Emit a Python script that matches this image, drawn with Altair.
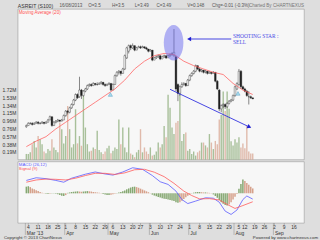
import altair as alt
import pandas as pd

# ---------------- data (trading days from 2013-03-01 to 2013-08-16) ----------------
opens = [3.24,3.25,3.27,3.27,3.26,3.27,3.28,3.27,3.27,3.28,
         3.27,3.28,3.30,3.33,3.25,3.28,3.29,3.30,3.29,3.30,
         3.34,3.38,3.37,3.41,3.44,3.48,3.53,3.51,3.57,3.52,
         3.56,3.58,3.61,3.62,3.61,3.63,3.62,3.62,3.63,3.64,
         3.62,3.61,3.62,3.63,3.57,3.62,3.70,3.73,3.74,3.72,
         3.76,3.86,3.92,3.97,3.95,3.97,3.93,3.95,3.96,3.95,
         3.96,3.95,3.94,3.92,3.93,3.84,3.86,3.87,3.88,3.85,
         3.87,3.88,3.86,3.88,3.89,3.88,3.87,3.62,3.54,3.60,
         3.62,3.63,3.61,3.66,3.70,3.72,3.74,3.79,3.76,3.74,
         3.75,3.73,3.74,3.72,3.73,3.72,3.73,3.65,3.57,3.40,
         3.43,3.44,3.42,3.45,3.47,3.48,3.52,3.58,3.62,3.74,
         3.60,3.58,3.56,3.51,3.51,3.50]
highs = [3.26,3.28,3.28,3.28,3.28,3.29,3.29,3.28,3.29,3.28,
         3.29,3.31,3.34,3.33,3.29,3.30,3.31,3.30,3.31,3.35,
         3.39,3.39,3.42,3.45,3.49,3.54,3.54,3.69,3.58,3.57,
         3.59,3.62,3.63,3.63,3.64,3.63,3.64,3.64,3.65,3.64,
         3.63,3.63,3.64,3.63,3.63,3.71,3.74,3.75,3.74,3.77,
         3.89,3.96,3.98,3.98,3.99,3.97,3.96,3.97,3.97,3.97,
         3.96,3.96,3.94,3.94,3.93,3.87,3.88,3.89,3.88,3.88,
         3.89,3.88,3.89,3.90,3.91,4.12,3.88,3.63,3.61,3.64,
         3.64,3.63,3.67,3.71,3.73,3.75,3.80,3.79,3.77,3.76,
         3.75,3.75,3.74,3.74,3.73,3.74,3.73,3.66,3.58,3.44,
         3.45,3.45,3.46,3.48,3.49,3.53,3.61,3.64,3.76,3.75,
         3.61,3.59,3.57,3.56,3.52,3.50]
lows = [3.23,3.25,3.26,3.25,3.26,3.27,3.26,3.26,3.27,3.26,
        3.27,3.28,3.30,3.24,3.25,3.27,3.28,3.28,3.29,3.30,
        3.33,3.35,3.36,3.40,3.43,3.47,3.49,3.50,3.49,3.51,
        3.55,3.57,3.60,3.60,3.61,3.61,3.61,3.62,3.62,3.61,
        3.60,3.61,3.62,3.56,3.57,3.62,3.69,3.71,3.70,3.72,
        3.75,3.85,3.90,3.93,3.94,3.92,3.93,3.95,3.94,3.95,
        3.94,3.93,3.91,3.92,3.83,3.84,3.85,3.86,3.84,3.85,
        3.86,3.85,3.86,3.87,3.88,3.87,3.56,3.47,3.52,3.59,
        3.61,3.60,3.61,3.65,3.69,3.71,3.73,3.75,3.73,3.73,
        3.72,3.72,3.71,3.72,3.71,3.72,3.64,3.57,3.38,3.37,
        3.41,3.40,3.41,3.44,3.46,3.47,3.51,3.57,3.61,3.58,
        3.57,3.55,3.51,3.44,3.49,3.49]
closes = [3.25,3.27,3.27,3.26,3.27,3.28,3.27,3.27,3.28,3.27,
          3.28,3.30,3.33,3.25,3.28,3.29,3.30,3.29,3.30,3.34,
          3.38,3.37,3.41,3.44,3.48,3.53,3.50,3.57,3.52,3.56,
          3.58,3.61,3.62,3.61,3.63,3.62,3.62,3.63,3.64,3.62,
          3.61,3.62,3.63,3.57,3.62,3.70,3.73,3.74,3.72,3.76,
          3.88,3.95,3.97,3.95,3.97,3.93,3.95,3.96,3.95,3.96,
          3.95,3.94,3.92,3.93,3.84,3.86,3.87,3.88,3.85,3.87,
          3.88,3.86,3.88,3.89,3.90,3.91,3.58,3.54,3.60,3.62,
          3.63,3.61,3.66,3.70,3.72,3.74,3.79,3.76,3.74,3.75,
          3.73,3.74,3.72,3.73,3.72,3.73,3.65,3.58,3.40,3.43,
          3.44,3.42,3.45,3.47,3.48,3.52,3.60,3.63,3.74,3.60,
          3.58,3.56,3.52,3.51,3.50,3.49]
volumes = [0.14,0.14,0.18,0.38,0.46,0.30,0.58,0.50,0.38,0.20,
           0.16,0.26,0.22,0.50,0.30,0.24,0.18,0.91,0.75,0.40,
           0.58,1.32,0.75,0.30,0.38,1.24,0.40,0.58,0.34,1.56,
           0.79,0.38,0.20,0.22,0.30,0.26,0.71,0.24,0.18,0.14,
           0.20,0.28,0.34,0.16,0.22,0.30,0.26,0.99,0.38,0.79,
           0.30,0.18,0.79,0.15,0.12,0.06,0.18,0.24,0.75,0.18,
           0.30,0.20,0.14,0.30,0.10,0.12,0.20,0.42,0.30,0.38,
           0.83,0.55,1.60,1.28,0.79,0.63,0.91,0.95,1.68,0.46,
           0.63,0.67,0.22,0.26,0.14,0.20,0.10,0.18,0.22,0.42,
           0.42,0.35,0.30,0.63,0.42,0.26,0.46,0.38,0.99,1.10,
           1.68,1.20,1.68,1.25,0.45,0.35,0.50,0.42,0.55,0.30,
           0.40,0.28,0.83,0.20,0.15,0.15]

# moving average (20)
ma_idx = [0,5,10,15,20,25,30,35,40,45,50,55,60,65,70,75,80,85,90,95,100,105,110,115]
ma_val = [3.06,3.11,3.15,3.22,3.28,3.34,3.40,3.46,3.52,3.58,3.66,3.76,3.83,3.88,3.90,3.89,
          3.83,3.79,3.76,3.73,3.71,3.63,3.57,3.53]

# MACD panel
macd_idx = [0,5,10,15,19,23,30,35,40,44,49,54,59,64,68,72,76,79,82,86,91,95,98,101,104,107,110,112,115]
macd_val = [0.058,0.070,0.066,0.058,0.050,0.068,0.086,0.096,0.087,0.082,0.096,0.115,0.108,0.080,
            0.052,0.040,0.010,-0.028,-0.046,-0.035,-0.020,-0.022,-0.040,-0.080,-0.095,-0.075,
            -0.028,-0.012,-0.026]
sig_idx = [0,5,10,15,20,25,30,35,40,45,50,55,60,65,70,75,80,84,88,93,98,102,106,110,115]
sig_val = [0.050,0.060,0.064,0.063,0.060,0.068,0.080,0.090,0.090,0.085,0.092,0.106,0.108,0.095,
           0.075,0.045,0.010,-0.010,-0.025,-0.024,-0.030,-0.050,-0.068,-0.055,-0.038]
hist_val = [0.030,0.032,0.028,0.022,0.018,0.014,0.010,0.006,0.003,0.001,
            -0.002,-0.003,-0.002,0.001,0.002,-0.002,-0.004,-0.008,-0.011,-0.012,
            -0.008,0.002,0.004,0.006,0.007,0.008,0.009,0.008,0.007,0.008,
            0.009,0.010,0.009,0.008,0.006,0.005,0.004,0.003,0.001,-0.003,
            -0.005,-0.007,-0.008,-0.006,-0.004,-0.002,0.002,0.004,0.006,0.009,
            0.013,0.018,0.022,0.026,0.029,0.030,0.028,0.025,0.021,0.017,
            0.013,0.009,0.005,0.001,-0.006,-0.010,-0.013,-0.016,-0.019,-0.022,
            -0.024,-0.026,-0.028,-0.030,-0.032,-0.035,-0.040,-0.042,-0.040,-0.033,
            -0.026,-0.018,-0.011,-0.005,0.001,0.003,0.005,0.006,0.006,0.005,
            0.004,0.004,0.003,0.002,0.001,-0.005,-0.012,-0.020,-0.030,-0.040,
            -0.047,-0.052,-0.055,-0.050,-0.040,-0.028,-0.015,-0.003,0.020,0.042,
            0.062,0.055,0.046,0.038,0.030,0.022]

price_ticks = [3.2,3.3,3.4,3.5,3.6,3.7,3.8,3.9,4.0,4.1,4.2,4.3]
vol_ticks = [0.19,0.38,0.57,0.76,0.96,1.15,1.34,1.53,1.72]
macd_ticks = [-0.086,0,0.086]
month_names = ["Mar '13","Apr","May","Jun","Jul","Aug","Sep"]

header_left = ["ASREIT (S100)","16/08/2013","O=3.5","H=3.5","L=3.49","C=3.49","V=0.148","Chg=-0.01 (-0.3%)"]

# ---------------- calendar -> trading-day index ----------------
holidays = pd.to_datetime(["2013-03-29","2013-05-01","2013-05-24","2013-08-08","2013-08-09"])
cal = pd.bdate_range("2013-03-01","2013-09-30")
cal = cal[~cal.isin(holidays)]
n = len(closes)

df = pd.DataFrame({"idx": list(range(n)), "open": opens, "high": highs, "low": lows,
                   "close": closes, "vol": volumes})
df["dir"] = ["up" if c >= o else "down" for o, c in zip(opens, closes)]
prev = [closes[0]] + closes[:-1]
df["vdir"] = ["up" if c >= p else "down" for c, p in zip(closes, prev)]

week_days = pd.date_range("2013-03-04","2013-09-16",freq="7D")
tick_idx = [int(cal.get_loc(d)) for d in week_days]
tick_labels = [str(d.day) for d in week_days]
month_pos = [int(cal.get_loc(cal[cal.month == m][0])) - 0.5 for m in range(3,10)]

df_week = pd.DataFrame({"pos": tick_idx, "name": tick_labels})
df_ma = pd.DataFrame({"idx": ma_idx, "ma": ma_val})
df_macd = pd.DataFrame({"idx": macd_idx, "v": macd_val})
df_sig = pd.DataFrame({"idx": sig_idx, "v": sig_val})
hcol = []
for i, h in enumerate(hist_val):
    p = hist_val[i-1] if i > 0 else h
    if h >= 0:
        hcol.append("pos_up" if h >= p else "pos_dn")
    else:
        hcol.append("neg_dn" if h < p else "neg_up")
df_hist = pd.DataFrame({"idx": list(range(len(hist_val))), "h": hist_val, "c": hcol})
df_month = pd.DataFrame({"pos": month_pos, "name": month_names})

W, H1, H2 = 289, 152, 62
xscale = alt.Scale(domain=[-1.8, 138.6], nice=False, zero=False)
pscale = alt.Scale(domain=[2.943, 4.3], nice=False, zero=False)
vscale = alt.Scale(domain=[0, 3.707], nice=False)
mscale = alt.Scale(domain=[-0.1337, 0.1426], nice=False, zero=False)
GRID = "#e3e3e3"
FONT = "Liberation Sans"

def xn(field="idx"):
    return alt.X(f"{field}:Q", scale=xscale, axis=None)

def yp(field):
    return alt.Y(f"{field}:Q", scale=pscale, axis=None)

def label(text, x, y, color="#333", size=5, align="left", font=FONT, weight="normal"):
    return alt.Chart(pd.DataFrame({"t": [text]})).mark_text(
        align=align, baseline="middle", fontSize=size, color=color, font=font, fontWeight=weight
    ).encode(text="t:N", x=alt.value(x), y=alt.value(y))

xgrid_axis = alt.Axis(values=tick_idx, labels=False, ticks=False, domain=False, grid=True,
                      gridColor=GRID, gridWidth=0.6, title=None)

# ---------------- top panel ----------------
vol = alt.Chart(df).mark_bar(size=1.4, opacity=0.7).encode(
    x=alt.X("idx:Q", scale=xscale, axis=xgrid_axis),
    y=alt.Y("vol:Q", scale=vscale, axis=alt.Axis(orient="left", values=vol_ticks,
            labelExpr="format(datum.value,'.2f')+'M'", grid=False, ticks=False, domain=False,
            title=None, labelPadding=2)),
    color=alt.Color("vdir:N", scale=alt.Scale(domain=["up","down"], range=["#86a872","#d6a08a"]), legend=None),
)

wick = alt.Chart(df).mark_rule(color="#3a3a3a", strokeWidth=0.6).encode(
    x=xn(),
    y=alt.Y("low:Q", scale=pscale, axis=alt.Axis(orient="right", values=price_ticks, format=".1f",
            grid=True, gridColor=GRID, gridWidth=0.6, ticks=False, domain=False, title=None, labelPadding=2)),
    y2="high:Q",
)
body = alt.Chart(df).mark_bar(size=1.7, stroke="#303030", strokeWidth=0.4).encode(
    x=xn(), y=yp("open"), y2="close:Q",
    fill=alt.Fill("dir:N", scale=alt.Scale(domain=["up","down"], range=["#ffffff","#1a1a1a"]), legend=None),
)
ma = alt.Chart(df_ma).mark_line(color="#ff6464", strokeWidth=0.8).encode(x=xn(), y=yp("ma"))

markers = alt.Chart(pd.DataFrame({"idx": [42.7, 107.5], "p": [3.53, 3.54]})).mark_point(
    shape="triangle-up", size=18, filled=True, fill="#a8dcec", stroke="#5aa0c8", strokeWidth=0.5, opacity=1
).encode(x=xn(), y=yp("p"))

ellipse_path = "M -0.55 0 A 0.55 1 0 1 1 0.55 0 A 0.55 1 0 1 1 -0.55 0 Z"
ellipse = alt.Chart(pd.DataFrame({"idx": [74.8], "p": [3.996]})).mark_point(
    shape=ellipse_path, size=1296, filled=True, color="#6a6af0", opacity=0.5
).encode(x=xn(), y=yp("p"))

arrow1 = alt.Chart(pd.DataFrame({"idx": [104.1], "idx2": [82.7], "p": [4.03]})).mark_rule(
    color="#3030e0", strokeWidth=0.9).encode(x=xn(), x2="idx2:Q", y=yp("p"))
head1 = alt.Chart(pd.DataFrame({"idx": [82.7], "p": [4.03]})).mark_point(
    shape="triangle-left", size=22, filled=True, color="#2020d0", opacity=1).encode(x=xn(), y=yp("p"))
arrow2 = alt.Chart(pd.DataFrame({"idx": [73.0], "idx2": [113.3], "p": [3.577], "p2": [3.2375]})).mark_rule(
    color="#3030e0", strokeWidth=0.9).encode(x=xn(), x2="idx2:Q", y=yp("p"), y2="p2:Q")
head2 = alt.Chart(pd.DataFrame({"idx": [113.3], "p": [3.2375]})).mark_point(
    shape="triangle-right", size=22, filled=True, color="#2020d0", opacity=1, angle=25).encode(x=xn(), y=yp("p"))
ann = alt.Chart(pd.DataFrame({"idx": [105.0, 105.0], "p": [4.06, 4.005], "t": ["SHOOTING STAR :", "SELL"]})).mark_text(
    align="left", baseline="middle", fontSize=5.5, font="Liberation Serif", color="#4a4ae6"
).encode(x=xn(), y=yp("p"), text="t:N")

price = alt.layer(wick, body, ma, markers, ellipse, arrow1, head1, arrow2, head2, ann)

hx = [0, 42, 71, 95, 118, 140, 171, 196]
header = [label(t, x, -3, color="#333" if i == 0 else "#555", size=5.2 if i == 0 else 4.6)
          for i, (t, x) in enumerate(zip(header_left, hx))]
header.append(label("Charted By CHARTNEXUS", W, -3, color="#777", size=4.6, align="right"))
ma_lbl = label("Moving Average (20)", 1, 4, color="#ff5050", size=4.6)

top = alt.layer(vol, price, *header, ma_lbl).resolve_scale(y="independent").properties(width=W, height=H1)

# ---------------- MACD panel ----------------
hist = alt.Chart(df_hist).mark_bar(size=1.5).encode(
    x=alt.X("idx:Q", scale=xscale, axis=xgrid_axis),
    y=alt.Y("h:Q", scale=mscale, axis=alt.Axis(orient="right", values=macd_ticks,
            labelExpr="datum.value == 0 ? '0' : format(datum.value, '.3f')", grid=True, gridColor=GRID,
            gridWidth=0.6, ticks=False, domain=False, title=None, labelPadding=2)),
    y2=alt.datum(0),
    color=alt.Color("c:N", scale=alt.Scale(domain=["pos_up","pos_dn","neg_dn","neg_up"],
                    range=["#a6d9a0","#f2b0a6","#e8563c","#3fb23a"]), legend=None),
)
macd_line = alt.Chart(df_macd).mark_line(color="#5a5aff", strokeWidth=0.8).encode(
    x=xn(), y=alt.Y("v:Q", scale=mscale, axis=None))
sig_line = alt.Chart(df_sig).mark_line(color="#ff5a5a", strokeWidth=0.8).encode(
    x=xn(), y=alt.Y("v:Q", scale=mscale, axis=None))
week_tick = alt.Chart(df_week).mark_rule(color="#888", strokeWidth=0.5).encode(
    x=xn("pos"), y=alt.value(H2), y2=alt.value(H2 + 2))
week_txt = alt.Chart(df_week).mark_text(align="center", baseline="middle", fontSize=5,
                                        font=FONT, color="#333").encode(
    x=xn("pos"), y=alt.value(H2 + 4), text="name:N")
month_tick = alt.Chart(df_month).mark_rule(color="#888", strokeWidth=0.5).encode(
    x=xn("pos"), y=alt.value(H2), y2=alt.value(H2 + 12))
month_txt = alt.Chart(df_month).mark_text(align="left", baseline="middle", dx=1.5, fontSize=5,
                                          font=FONT, color="#333").encode(
    x=xn("pos"), y=alt.value(H2 + 10), text="name:N")
macd_lbl = label("MACD (26,12)", 1, 3, color="#5a5aff", size=4.4)
sig_lbl = label("Signal (9)", 1, 7.5, color="#ff5050", size=4.4)
copy_lbl = label("Copyright \u00a9 2013 ChartNexus", -14, H2 + 15.5, color="#333", size=4.4)
pow_lbl = label("Powered by www.chartnexus.com", W + 14, H2 + 15.5, color="#333", size=4.4, align="right")

bottom = alt.layer(hist, macd_line, sig_line, week_tick, week_txt, month_tick, month_txt,
                   macd_lbl, sig_lbl, copy_lbl, pow_lbl).properties(width=W, height=H2)

chart = alt.vconcat(top, bottom, spacing=0).properties(
    padding={"left": 1, "top": 1, "right": 1, "bottom": 0}, background="#dedede"
).configure_view(stroke="#9a9a9a", strokeWidth=0.6, fill="#f7f7f7").configure_axis(
    labelFont=FONT, labelFontSize=5, labelColor="#333"
).configure_text(font=FONT)

chart.save("out.html", embed_options={"renderer": "svg", "actions": False})
